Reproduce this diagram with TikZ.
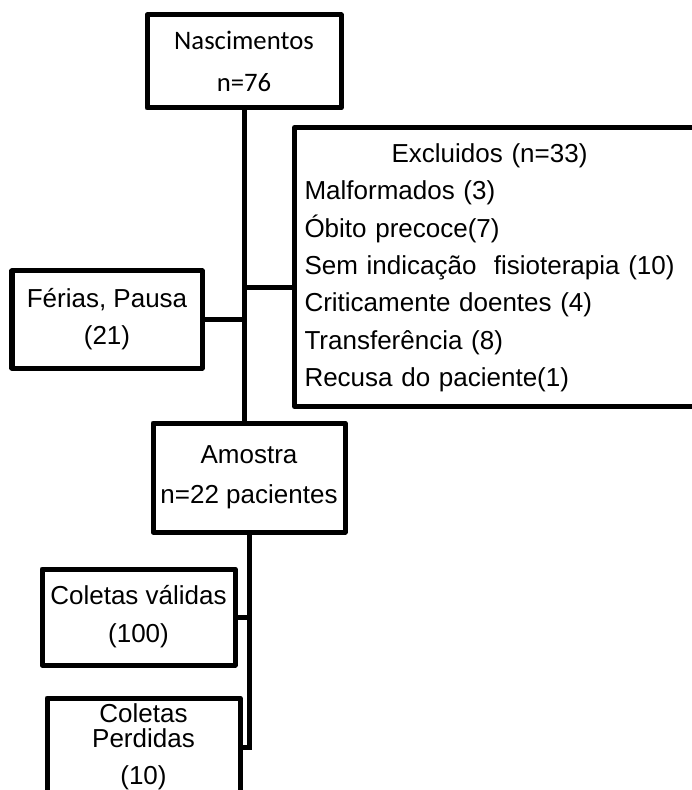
\documentclass[tikz,border=0pt]{standalone}
\usepackage{fontspec}
\setmainfont{Liberation Sans}
\newfontfamily\calibrifont{Carlito}
\usetikzlibrary{positioning}

\begin{document}
\begin{tikzpicture}[
    box/.style={draw,line width=0.1cm,line join=round,inner sep=0pt,align=center,font=\fontsize{14.8}{21}\selectfont},
    link/.style={line width=0.1cm,line join=miter}
]
\useasboundingbox (0,0) rectangle (13.84,-15.8);

% Nascimentos
\node[box,minimum width=3.88cm,minimum height=1.86cm,font=\calibrifont\fontsize{15.2}{23.9}\selectfont] (nasc) at (4.88,-1.23) {Nascimentos\\n=76};

% Excluidos
\node[box,anchor=north west,minimum height=5.58cm,text width=8cm,inner xsep=0.2cm,align=left,font=\fontsize{14.8}{21.3}\selectfont] (excl) at (5.84,-2.5) {\begin{tabular}{@{}l@{}}
\multicolumn{1}{@{}c@{}}{Excluidos (n=33)}\\
Malformados (3)\\
Óbito precoce(7)\\
Sem indicação\ \ fisioterapia (10)\\
Criticamente doentes (4)\\
Transferência (8)\\
Recusa do paciente(1)
\end{tabular}};

% Ferias
\node[box,minimum width=3.8cm,minimum height=1.94cm] (ferias) at (2.14,-6.39) {Férias, Pausa\\(21)};

% Amostra
\node[box,minimum width=3.84cm,minimum height=2.18cm,font=\fontsize{14.8}{22.8}\selectfont] (amostra) at (4.98,-9.55) {Amostra\\n=22 pacientes};

% Coletas
\node[box,minimum width=3.86cm,minimum height=1.92cm,font=\fontsize{14.8}{21.6}\selectfont] (validas) at (2.77,-12.34) {Coletas válidas\\(100)};
\node[box,minimum width=3.86cm,minimum height=1.96cm] (perdidas) at (2.87,-14.94) {Coletas\\[-6.8pt]Perdidas\\(10)};

% Connections
\coordinate (jexcl) at (4.88,-5.76);
\draw[link] (nasc.south) -- (nasc.south |- amostra.north);
\draw[link] (jexcl) -- (jexcl -| excl.west);
\draw[link] (ferias.east) -- (ferias.east -| nasc.south);
\draw[link] (amostra.south) |- (perdidas.east);
\draw[link] (validas.east) -- (validas.east -| amostra.south);

\end{tikzpicture}
\end{document}
